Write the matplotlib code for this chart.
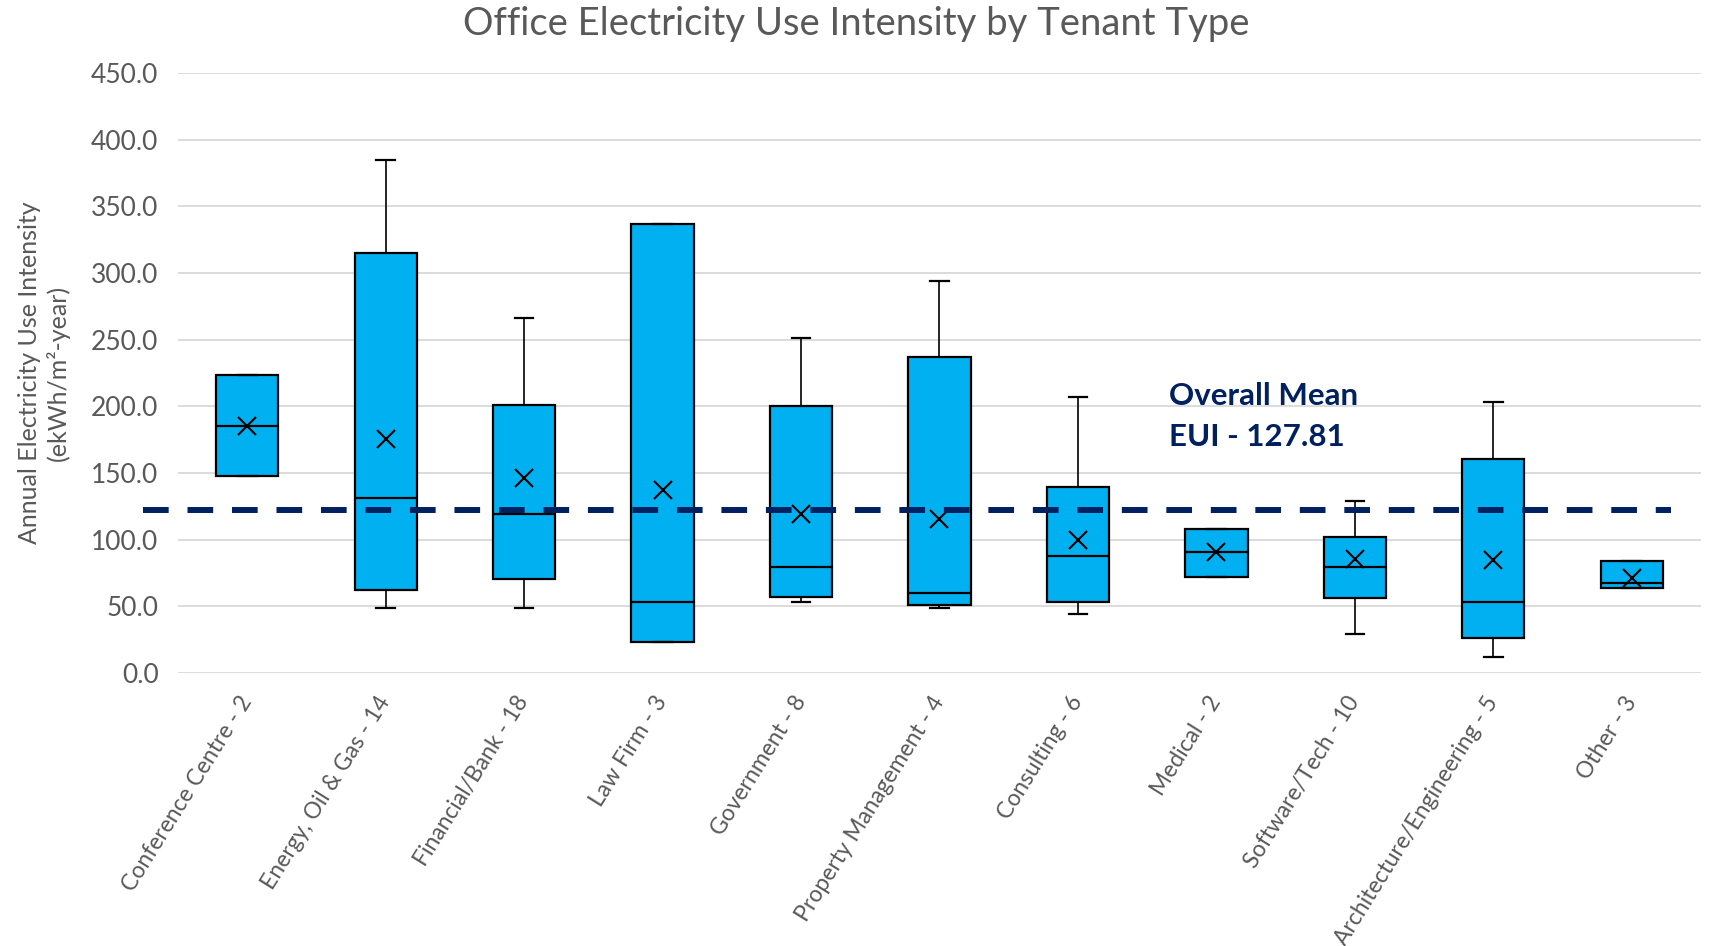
import numpy as np
import matplotlib
matplotlib.use("Agg")
import matplotlib.pyplot as plt

# tenant types (with sample counts) and box stats
categories = ["Conference Centre - 2", "Energy, Oil & Gas - 14", "Financial/Bank - 18",
              "Law Firm - 3", "Government - 8", "Property Management - 4",
              "Consulting - 6", "Medical - 2", "Software/Tech - 10",
              "Architecture/Engineering - 5", "Other - 3"]
whislo = [147.6, 48.9, 48.9, 23.5, 53.3, 48.7, 44.0, 72.0, 29.3, 11.8, 63.9]
q1 = [147.6, 61.9, 70.4, 23.5, 57.0, 50.8, 53.3, 72.0, 55.9, 26.1, 63.9]
median = [185.5, 131.1, 118.9, 53.4, 79.6, 60.0, 87.9, 90.5, 79.4, 53.1, 67.4]
q3 = [223.3, 314.8, 200.8, 337.0, 200.0, 237.2, 139.4, 108.3, 102.0, 160.4, 84.2]
whishi = [223.3, 384.9, 265.9, 337.0, 251.0, 294.0, 207.3, 108.3, 129.3, 203.3, 84.2]
mean = [185.5, 175.6, 146.3, 137.6, 119.1, 115.3, 99.7, 90.5, 85.7, 84.5, 71.4]
overall_line = 122.0
overall_label = "Overall Mean\nEUI - 127.81"

yticks = np.arange(0, 451, 50)

plt.rcParams['font.family'] = ['Lato', 'DejaVu Sans']
gray = "#595959"
navy = "#002060"

fig = plt.figure(figsize=(17.13, 9.46), dpi=100)
ax = fig.add_axes([0.1039, 0.2886, 0.8891, 0.6342])

stats = []
for i in range(len(categories)):
    stats.append({"whislo": whislo[i], "q1": q1[i], "med": median[i],
                  "q3": q3[i], "whishi": whishi[i], "mean": mean[i], "fliers": []})

pos = np.arange(1, len(categories) + 1)
ax.bxp(stats, positions=pos, widths=0.45, capwidths=0.135, showmeans=True,
       patch_artist=True, showfliers=False,
       boxprops=dict(facecolor="#00b0f0", edgecolor="black", linewidth=1.6),
       medianprops=dict(color="black", linewidth=1.6),
       whiskerprops=dict(color="black", linewidth=1.2),
       capprops=dict(color="black", linewidth=1.6),
       meanprops=dict(marker="x", markeredgecolor="black", markersize=13,
                      markeredgewidth=1.5))

# overall mean reference line (runs a bit past the plot area on the left)
ax.plot([0.25, 11.28], [overall_line, overall_line], color=navy, linewidth=4.3,
        dashes=(4.3, 3.15), clip_on=False, zorder=5)
lines = overall_label.split("\n")
ax.text(7.66, 201, lines[0], color=navy, fontsize=22.5, fontweight="bold",
        ha="left", va="baseline")
ax.text(7.66, 170, lines[1], color=navy, fontsize=22.5, fontweight="bold",
        ha="left", va="baseline")

ax.set_xlim(0.5, 11.5)
ax.set_ylim(0, 450)
ax.set_yticks(yticks)
ax.set_yticklabels([f"{v:.1f}" for v in yticks], color=gray, fontsize=19)
ax.set_xticks(pos)
ax.set_xticklabels(categories, rotation=58, ha="right", va="center",
                   rotation_mode="anchor", color=gray, fontsize=16.5)
ax.tick_params(axis="both", length=0)
ax.tick_params(axis="y", pad=14)
ax.tick_params(axis="x", pad=18)
ax.yaxis.grid(True, color="#d9d9d9", linewidth=1.3)
ax.set_axisbelow(True)
for s in ax.spines.values():
    s.set_visible(False)

ax.set_ylabel("Annual Electricity Use Intensity\n(ekWh/m²-year)", color=gray,
              fontsize=18, linespacing=1.25)
ax.yaxis.set_label_coords(-0.071, 0.5)
fig.suptitle("Office Electricity Use Intensity by Tenant Type", color=gray,
             fontsize=27.5, y=0.975, va="center")

fig.savefig("out.png", dpi=100)
